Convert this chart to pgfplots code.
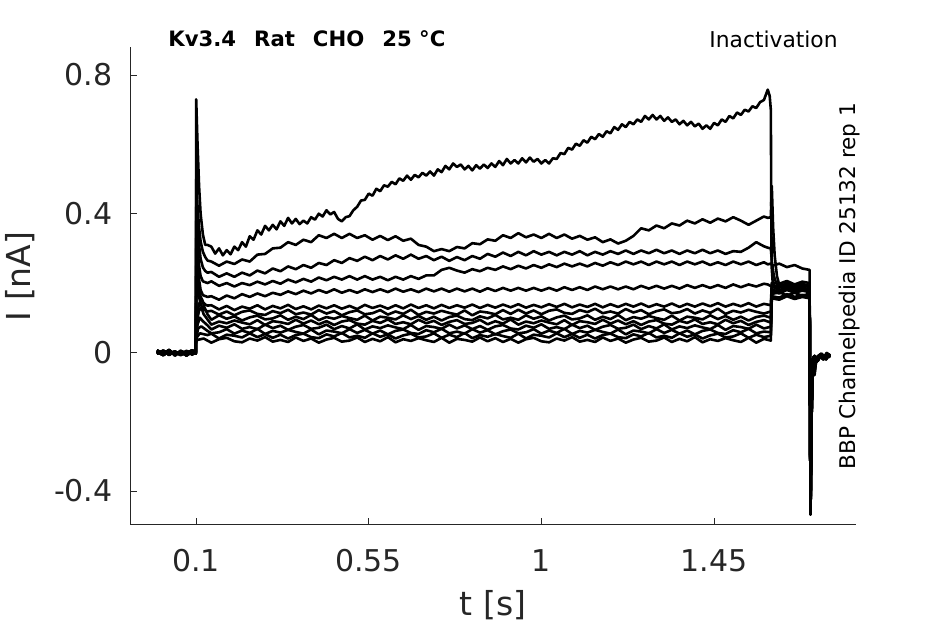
\documentclass[border=0pt]{standalone}
\usepackage{pgfplots}
\pgfplotsset{compat=1.18}
\usepackage{fontspec}
\setmainfont{DejaVu Sans}
\definecolor{axgray}{HTML}{262626}
\begin{document}
\begin{tikzpicture}
\useasboundingbox (-65pt,-49.5pt) rectangle (407.5pt,262.5pt);
\begin{axis}[
  at={(0,0)}, anchor=south west,
  scale only axis, width=363pt, height=239pt,
  xmin=-0.072, xmax=1.82, ymin=-0.498, ymax=0.881,
  axis x line*=bottom, axis y line*=left,
  axis line style={draw=axgray, line width=0.5pt, -},
  tick align=inside, major tick length=3.3pt,
  tick style={draw=axgray, line width=0.5pt},
  xtick={0.1,0.55,1,1.45}, xticklabels={0.1,0.55,1,1.45},
  ytick={-0.4,0,0.4,0.8}, yticklabels={-0.4,0,0.4,0.8},
  tick label style={font=\fontsize{15}{18}\selectfont, text=axgray, inner sep=0pt},
  xticklabel style={anchor=center, yshift=-17.8pt},
  yticklabel style={anchor=east, xshift=-8.5pt},
  xlabel={t [s]}, ylabel={I [nA]},
  label style={font=\fontsize{16.5}{19}\selectfont, text=axgray, inner sep=0pt},
  xlabel style={at={(axis description cs:0.5,0)}, anchor=center, yshift=-40pt},
  ylabel style={at={(axis description cs:-0.1515,0.52)}, anchor=center},
  cycle list={{black,solid}},
  every axis plot/.append style={line width=1.3pt, line join=round, no markers},
]
% A
\addplot coordinates {(-0.002,0.003)(0.01,-0.006)(0.02,0.004)(0.03,-0.008)(0.04,0.002)(0.05,-0.005)(0.06,0.005)(0.07,-0.007)(0.08,0.003)(0.09,-0.004)(0.0995,0.0)(0.1,0.05)(0.1005,0.73)(0.104,0.6)(0.108,0.48)(0.112,0.4)(0.118,0.34)(0.124,0.31)(0.13,0.31)
(0.14,0.305)(0.15,0.285)(0.16,0.30)(0.17,0.28)(0.18,0.295)(0.19,0.283)(0.20,0.305)(0.21,0.295)(0.22,0.318)(0.23,0.305)(0.24,0.335)(0.25,0.325)(0.26,0.352)(0.27,0.34)(0.28,0.365)(0.29,0.352)(0.30,0.368)(0.31,0.355)(0.32,0.378)(0.33,0.365)(0.34,0.388)(0.35,0.372)(0.36,0.385)(0.37,0.37)(0.38,0.38)(0.39,0.372)(0.40,0.39)(0.41,0.383)(0.42,0.40)(0.43,0.392)(0.44,0.41)(0.45,0.398)(0.46,0.405)(0.47,0.385)(0.48,0.378)(0.49,0.39)(0.50,0.393)(0.51,0.41)(0.52,0.42)(0.53,0.438)(0.54,0.44)(0.55,0.458)(0.56,0.452)(0.57,0.472)(0.58,0.465)(0.59,0.482)(0.60,0.478)(0.61,0.492)(0.62,0.485)(0.63,0.502)(0.64,0.495)(0.65,0.51)(0.66,0.498)(0.67,0.512)(0.68,0.505)(0.69,0.518)(0.70,0.51)(0.71,0.522)(0.72,0.51)(0.73,0.528)(0.74,0.52)(0.75,0.538)(0.76,0.528)(0.77,0.545)(0.78,0.535)(0.79,0.542)(0.80,0.528)(0.81,0.538)(0.82,0.525)(0.83,0.54)(0.84,0.53)(0.85,0.542)(0.86,0.532)(0.87,0.545)(0.88,0.535)(0.89,0.552)(0.90,0.54)(0.91,0.558)(0.92,0.545)(0.93,0.555)(0.94,0.545)(0.95,0.56)(0.96,0.548)(0.97,0.562)(0.98,0.55)(0.99,0.558)(1.00,0.545)(1.01,0.555)(1.02,0.545)(1.03,0.56)(1.04,0.558)(1.05,0.575)(1.06,0.572)(1.07,0.59)(1.08,0.585)(1.09,0.602)(1.10,0.596)(1.11,0.612)(1.12,0.605)(1.13,0.622)(1.14,0.615)(1.15,0.63)(1.16,0.622)(1.17,0.638)(1.18,0.632)(1.19,0.65)(1.20,0.642)(1.21,0.658)(1.22,0.65)(1.23,0.665)(1.24,0.658)(1.25,0.672)(1.26,0.665)(1.27,0.682)(1.28,0.672)(1.29,0.685)(1.30,0.672)(1.31,0.682)(1.32,0.668)(1.33,0.678)(1.34,0.665)(1.35,0.672)(1.36,0.658)(1.37,0.668)(1.38,0.655)(1.39,0.665)(1.40,0.652)(1.41,0.66)(1.42,0.645)(1.43,0.655)(1.44,0.645)(1.45,0.662)(1.46,0.655)(1.47,0.672)(1.48,0.665)(1.49,0.682)(1.50,0.675)(1.51,0.692)(1.52,0.685)(1.53,0.7)(1.54,0.695)(1.55,0.71)(1.56,0.705)(1.57,0.722)(1.58,0.728)(1.59,0.758)(1.595,0.74)(1.598,0.70)(1.6,0.25)(1.603,0.2)(1.61,0.185)(1.62,0.178)(1.64,0.19)(1.66,0.176)(1.68,0.188)(1.699,0.18)
(1.7,-0.1)(1.7015,-0.468)(1.704,-0.2)(1.707,-0.04)(1.71,-0.015)(1.715,-0.03)(1.72,-0.012)(1.73,-0.004)(1.74,-0.016)(1.752,-0.008)};
% B
\addplot coordinates {(-0.002,-0.004)(0.015,0.005)(0.03,-0.007)(0.045,0.003)(0.06,-0.008)(0.075,0.004)(0.09,-0.006)(0.0995,0.001)(0.1,0.05)(0.1005,0.5)(0.104,0.42)(0.108,0.36)(0.112,0.32)(0.118,0.29)(0.124,0.275)(0.13,0.265)
(0.14,0.262)(0.16,0.25)(0.18,0.262)(0.20,0.255)(0.22,0.268)(0.24,0.262)(0.26,0.282)(0.28,0.284)(0.30,0.30)(0.32,0.302)(0.34,0.318)(0.36,0.31)(0.38,0.325)(0.40,0.318)(0.42,0.338)(0.44,0.33)(0.46,0.342)(0.48,0.33)(0.50,0.342)(0.52,0.33)(0.54,0.338)(0.56,0.325)(0.58,0.336)(0.60,0.324)(0.62,0.335)(0.64,0.322)(0.66,0.328)(0.68,0.31)(0.70,0.305)(0.72,0.292)(0.74,0.298)(0.76,0.292)(0.78,0.304)(0.80,0.30)(0.82,0.315)(0.84,0.312)(0.86,0.326)(0.88,0.322)(0.90,0.338)(0.92,0.33)(0.94,0.344)(0.96,0.332)(0.98,0.34)(1.00,0.33)(1.02,0.342)(1.04,0.33)(1.06,0.34)(1.08,0.328)(1.10,0.336)(1.12,0.325)(1.14,0.332)(1.16,0.318)(1.18,0.326)(1.20,0.314)(1.22,0.322)(1.24,0.336)(1.26,0.358)(1.28,0.352)(1.30,0.366)(1.32,0.358)(1.34,0.372)(1.36,0.366)(1.38,0.38)(1.40,0.372)(1.42,0.384)(1.44,0.374)(1.46,0.386)(1.48,0.378)(1.50,0.39)(1.52,0.38)(1.54,0.368)(1.56,0.38)(1.58,0.392)(1.59,0.388)(1.598,0.39)(1.6005,0.48)(1.604,0.36)(1.608,0.28)(1.614,0.22)(1.62,0.195)(1.64,0.182)(1.66,0.192)(1.68,0.18)(1.699,0.185)
(1.7,-0.1)(1.7015,-0.44)(1.704,-0.18)(1.708,-0.03)(1.712,-0.066)(1.716,-0.025)(1.725,-0.01)(1.735,-0.02)(1.745,-0.005)(1.752,-0.015)};
% C
\addplot coordinates {(-0.002,0.006)(0.015,-0.004)(0.03,0.007)(0.045,-0.009)(0.06,0.004)(0.075,-0.003)(0.09,0.006)(0.0995,-0.002)(0.1,0.05)(0.1005,0.42)(0.104,0.36)(0.108,0.31)(0.112,0.27)(0.118,0.245)(0.124,0.235)(0.13,0.23)
(0.14,0.232)(0.16,0.218)(0.18,0.228)(0.20,0.218)(0.22,0.23)(0.24,0.222)(0.26,0.236)(0.28,0.228)(0.30,0.242)(0.32,0.234)(0.34,0.248)(0.36,0.24)(0.38,0.252)(0.40,0.244)(0.42,0.258)(0.44,0.252)(0.46,0.266)(0.48,0.258)(0.50,0.272)(0.52,0.264)(0.54,0.276)(0.56,0.266)(0.58,0.278)(0.60,0.268)(0.62,0.28)(0.64,0.27)(0.66,0.282)(0.68,0.27)(0.70,0.278)(0.72,0.266)(0.74,0.276)(0.76,0.264)(0.78,0.275)(0.80,0.266)(0.82,0.278)(0.84,0.27)(0.86,0.284)(0.88,0.276)(0.90,0.288)(0.92,0.278)(0.94,0.29)(0.96,0.28)(0.98,0.292)(1.00,0.282)(1.02,0.29)(1.04,0.28)(1.06,0.29)(1.08,0.282)(1.10,0.292)(1.12,0.28)(1.14,0.29)(1.16,0.282)(1.18,0.292)(1.20,0.284)(1.22,0.294)(1.24,0.284)(1.26,0.294)(1.28,0.286)(1.30,0.296)(1.32,0.286)(1.34,0.294)(1.36,0.284)(1.38,0.294)(1.40,0.286)(1.42,0.296)(1.44,0.286)(1.46,0.294)(1.48,0.284)(1.50,0.292)(1.52,0.29)(1.54,0.302)(1.56,0.318)(1.58,0.306)(1.59,0.302)(1.598,0.3)(1.601,0.26)(1.606,0.22)(1.612,0.2)(1.62,0.19)(1.64,0.2)(1.66,0.188)(1.68,0.198)(1.699,0.19)
(1.7,-0.1)(1.7015,-0.45)(1.704,-0.15)(1.707,-0.02)(1.712,-0.01)(1.72,-0.025)(1.73,-0.006)(1.742,-0.02)(1.752,-0.004)};
% D
\addplot coordinates {(-0.002,0.002)(0.015,-0.008)(0.03,0.004)(0.045,-0.006)(0.06,0.003)(0.075,-0.009)(0.09,0.002)(0.0995,-0.004)(0.1,0.05)(0.1005,0.38)(0.104,0.3)(0.108,0.25)(0.112,0.22)(0.118,0.205)(0.13,0.2)
(0.14,0.205)(0.16,0.192)(0.18,0.2)(0.20,0.19)(0.22,0.2)(0.24,0.194)(0.26,0.204)(0.28,0.196)(0.30,0.206)(0.32,0.198)(0.34,0.21)(0.36,0.202)(0.38,0.212)(0.40,0.204)(0.42,0.216)(0.44,0.208)(0.46,0.218)(0.48,0.21)(0.50,0.22)(0.52,0.21)(0.54,0.22)(0.56,0.21)(0.58,0.218)(0.60,0.208)(0.62,0.218)(0.64,0.21)(0.66,0.22)(0.68,0.212)(0.70,0.222)(0.72,0.222)(0.74,0.238)(0.76,0.244)(0.78,0.236)(0.80,0.23)(0.82,0.24)(0.84,0.234)(0.86,0.244)(0.88,0.238)(0.90,0.248)(0.92,0.24)(0.94,0.25)(0.96,0.242)(0.98,0.252)(1.00,0.244)(1.02,0.254)(1.04,0.246)(1.06,0.256)(1.08,0.248)(1.10,0.256)(1.12,0.248)(1.14,0.258)(1.16,0.25)(1.18,0.26)(1.20,0.252)(1.22,0.262)(1.24,0.254)(1.26,0.262)(1.28,0.252)(1.30,0.262)(1.32,0.254)(1.34,0.262)(1.36,0.252)(1.38,0.262)(1.40,0.254)(1.42,0.262)(1.44,0.252)(1.46,0.26)(1.48,0.252)(1.50,0.262)(1.52,0.254)(1.54,0.262)(1.56,0.252)(1.58,0.26)(1.59,0.254)(1.598,0.256)(1.602,0.25)(1.62,0.256)(1.64,0.246)(1.66,0.252)(1.68,0.242)(1.699,0.238)
(1.7,-0.1)(1.7015,-0.46)(1.704,-0.19)(1.707,-0.035)(1.71,-0.012)(1.716,-0.028)(1.724,-0.008)(1.734,-0.018)(1.744,-0.002)(1.752,-0.012)};
% E
\addplot coordinates {(-0.002,-0.004)(0.015,0.005)(0.03,-0.007)(0.045,0.003)(0.06,-0.008)(0.075,0.004)(0.09,-0.006)(0.0995,0.001)(0.1,0.05)(0.1005,0.33)(0.104,0.26)(0.108,0.21)(0.112,0.18)(0.118,0.165)(0.13,0.16)
(0.14,0.162)(0.16,0.152)(0.18,0.164)(0.20,0.156)(0.22,0.168)(0.24,0.16)(0.26,0.17)(0.28,0.162)(0.30,0.172)(0.32,0.166)(0.34,0.176)(0.36,0.168)(0.38,0.178)(0.40,0.17)(0.42,0.18)(0.44,0.172)(0.46,0.182)(0.48,0.172)(0.50,0.18)(0.52,0.172)(0.54,0.182)(0.56,0.174)(0.58,0.182)(0.60,0.174)(0.62,0.184)(0.64,0.175)(0.66,0.182)(0.68,0.174)(0.70,0.184)(0.72,0.176)(0.74,0.184)(0.76,0.175)(0.78,0.184)(0.80,0.176)(0.82,0.184)(0.84,0.175)(0.86,0.185)(0.88,0.177)(0.90,0.186)(0.92,0.178)(0.94,0.186)(0.96,0.178)(0.98,0.186)(1.00,0.178)(1.02,0.186)(1.04,0.178)(1.06,0.188)(1.08,0.18)(1.10,0.188)(1.12,0.18)(1.14,0.19)(1.16,0.182)(1.18,0.19)(1.20,0.182)(1.22,0.19)(1.24,0.182)(1.26,0.192)(1.28,0.184)(1.30,0.192)(1.32,0.184)(1.34,0.192)(1.36,0.184)(1.38,0.194)(1.40,0.186)(1.42,0.194)(1.44,0.186)(1.46,0.194)(1.48,0.186)(1.50,0.196)(1.52,0.188)(1.54,0.196)(1.56,0.19)(1.58,0.198)(1.59,0.196)(1.6,0.19)(1.62,0.186)(1.64,0.196)(1.66,0.184)(1.68,0.194)(1.699,0.188)
(1.7,-0.1)(1.7015,-0.468)(1.704,-0.2)(1.707,-0.04)(1.71,-0.015)(1.715,-0.03)(1.72,-0.012)(1.73,-0.004)(1.74,-0.016)(1.752,-0.008)};
% F
\addplot coordinates {(-0.002,0.006)(0.015,-0.004)(0.03,0.007)(0.045,-0.009)(0.06,0.004)(0.075,-0.003)(0.09,0.006)(0.0995,-0.002)(0.1,0.045)(0.1005,0.3)(0.104,0.24)(0.108,0.19)(0.112,0.16)(0.118,0.145)(0.124,0.138)(0.13,0.135)
(0.14,0.136)(0.16,0.124)(0.18,0.134)(0.20,0.122)(0.22,0.132)(0.24,0.126)(0.26,0.136)(0.28,0.124)(0.30,0.134)(0.32,0.127)(0.34,0.137)(0.36,0.125)(0.38,0.133)(0.40,0.124)(0.42,0.135)(0.44,0.127)(0.46,0.136)(0.48,0.126)(0.50,0.134)(0.52,0.125)(0.54,0.137)(0.56,0.128)(0.58,0.135)(0.60,0.126)(0.62,0.136)(0.64,0.127)(0.66,0.138)(0.68,0.128)(0.70,0.136)(0.72,0.127)(0.74,0.137)(0.76,0.128)(0.78,0.136)(0.80,0.129)(0.82,0.138)(0.84,0.128)(0.86,0.137)(0.88,0.129)(0.90,0.138)(0.92,0.13)(0.94,0.139)(0.96,0.129)(0.98,0.137)(1.00,0.13)(1.02,0.139)(1.04,0.131)(1.06,0.14)(1.08,0.13)(1.10,0.138)(1.12,0.131)(1.14,0.14)(1.16,0.13)(1.18,0.139)(1.20,0.131)(1.22,0.14)(1.24,0.132)(1.26,0.141)(1.28,0.131)(1.30,0.139)(1.32,0.132)(1.34,0.141)(1.36,0.131)(1.38,0.14)(1.40,0.132)(1.42,0.141)(1.44,0.133)(1.46,0.142)(1.48,0.132)(1.50,0.14)(1.52,0.133)(1.54,0.142)(1.56,0.132)(1.58,0.14)(1.598,0.136)(1.6005,0.2)(1.62,0.198)(1.64,0.206)(1.66,0.196)(1.68,0.204)(1.699,0.2)
(1.7,-0.1)(1.7015,-0.44)(1.704,-0.18)(1.708,-0.03)(1.712,-0.05)(1.716,-0.025)(1.725,-0.01)(1.735,-0.02)(1.745,-0.005)(1.752,-0.015)};
% G
\addplot coordinates {(-0.002,0.002)(0.015,-0.008)(0.03,0.004)(0.045,-0.006)(0.06,0.003)(0.075,-0.009)(0.09,0.002)(0.0995,-0.004)(0.1,0.045)(0.1005,0.25)(0.104,0.2)(0.108,0.16)(0.112,0.14)(0.118,0.125)(0.13,0.118)
(0.14,0.120)(0.16,0.109)(0.18,0.118)(0.20,0.107)(0.22,0.117)(0.24,0.121)(0.26,0.111)(0.28,0.108)(0.30,0.119)(0.32,0.113)(0.34,0.123)(0.36,0.110)(0.38,0.115)(0.40,0.109)(0.42,0.122)(0.44,0.112)(0.46,0.119)(0.48,0.107)(0.50,0.116)(0.52,0.121)(0.54,0.110)(0.56,0.113)(0.58,0.122)(0.60,0.109)(0.62,0.118)(0.64,0.111)(0.66,0.123)(0.68,0.108)(0.70,0.117)(0.72,0.112)(0.74,0.120)(0.76,0.114)(0.78,0.109)(0.80,0.121)(0.82,0.107)(0.84,0.118)(0.86,0.115)(0.88,0.110)(0.90,0.122)(0.92,0.111)(0.94,0.123)(0.96,0.112)(0.98,0.121)(1.00,0.110)(1.02,0.120)(1.04,0.124)(1.06,0.114)(1.08,0.111)(1.10,0.122)(1.12,0.116)(1.14,0.126)(1.16,0.113)(1.18,0.118)(1.20,0.112)(1.22,0.125)(1.24,0.115)(1.26,0.122)(1.28,0.110)(1.30,0.119)(1.32,0.124)(1.34,0.113)(1.36,0.116)(1.38,0.125)(1.40,0.112)(1.42,0.121)(1.44,0.114)(1.46,0.126)(1.48,0.111)(1.50,0.120)(1.52,0.115)(1.54,0.123)(1.56,0.117)(1.58,0.112)(1.598,0.118)(1.6005,0.194)(1.62,0.188)(1.64,0.198)(1.66,0.19)(1.68,0.197)(1.699,0.192)
(1.7,-0.1)(1.7015,-0.45)(1.704,-0.15)(1.707,-0.02)(1.712,-0.01)(1.72,-0.025)(1.73,-0.006)(1.742,-0.02)(1.752,-0.004)};
% H
\addplot coordinates {(-0.002,-0.004)(0.015,0.005)(0.03,-0.007)(0.045,0.003)(0.06,-0.008)(0.075,0.004)(0.09,-0.006)(0.0995,0.001)(0.1,0.045)(0.102,0.1)(0.108,0.14)(0.115,0.155)(0.122,0.13)(0.13,0.11)
(0.14,0.094)(0.16,0.107)(0.18,0.097)(0.20,0.104)(0.22,0.092)(0.24,0.101)(0.26,0.106)(0.28,0.095)(0.30,0.098)(0.32,0.107)(0.34,0.094)(0.36,0.103)(0.38,0.096)(0.40,0.108)(0.42,0.093)(0.44,0.102)(0.46,0.097)(0.48,0.105)(0.50,0.099)(0.52,0.094)(0.54,0.106)(0.56,0.092)(0.58,0.103)(0.60,0.100)(0.62,0.095)(0.64,0.107)(0.66,0.096)(0.68,0.105)(0.70,0.094)(0.72,0.103)(0.74,0.092)(0.76,0.102)(0.78,0.106)(0.80,0.096)(0.82,0.093)(0.84,0.104)(0.86,0.098)(0.88,0.108)(0.90,0.095)(0.92,0.100)(0.94,0.094)(0.96,0.107)(0.98,0.097)(1.00,0.104)(1.02,0.092)(1.04,0.101)(1.06,0.106)(1.08,0.095)(1.10,0.098)(1.12,0.107)(1.14,0.094)(1.16,0.103)(1.18,0.096)(1.20,0.108)(1.22,0.093)(1.24,0.102)(1.26,0.097)(1.28,0.105)(1.30,0.099)(1.32,0.094)(1.34,0.106)(1.36,0.092)(1.38,0.103)(1.40,0.100)(1.42,0.095)(1.44,0.107)(1.46,0.096)(1.48,0.105)(1.50,0.094)(1.52,0.103)(1.54,0.092)(1.56,0.102)(1.58,0.106)(1.598,0.1)(1.6005,0.186)(1.62,0.192)(1.64,0.182)(1.66,0.19)(1.68,0.18)(1.699,0.186)
(1.7,-0.1)(1.7015,-0.46)(1.704,-0.19)(1.707,-0.035)(1.71,-0.012)(1.716,-0.028)(1.724,-0.008)(1.734,-0.018)(1.744,-0.002)(1.752,-0.012)};
% I
\addplot coordinates {(-0.002,0.006)(0.015,-0.004)(0.03,0.007)(0.045,-0.009)(0.06,0.004)(0.075,-0.003)(0.09,0.006)(0.0995,-0.002)(0.1,0.04)(0.102,0.09)(0.108,0.12)(0.114,0.13)(0.12,0.11)(0.13,0.095)
(0.14,0.080)(0.16,0.089)(0.18,0.084)(0.20,0.092)(0.22,0.086)(0.24,0.081)(0.26,0.093)(0.28,0.079)(0.30,0.090)(0.32,0.087)(0.34,0.082)(0.36,0.094)(0.38,0.083)(0.40,0.092)(0.42,0.081)(0.44,0.090)(0.46,0.079)(0.48,0.089)(0.50,0.093)(0.52,0.083)(0.54,0.080)(0.56,0.091)(0.58,0.085)(0.60,0.095)(0.62,0.082)(0.64,0.087)(0.66,0.081)(0.68,0.094)(0.70,0.084)(0.72,0.091)(0.74,0.079)(0.76,0.088)(0.78,0.093)(0.80,0.082)(0.82,0.085)(0.84,0.094)(0.86,0.081)(0.88,0.090)(0.90,0.083)(0.92,0.095)(0.94,0.080)(0.96,0.089)(0.98,0.084)(1.00,0.092)(1.02,0.086)(1.04,0.081)(1.06,0.093)(1.08,0.079)(1.10,0.090)(1.12,0.087)(1.14,0.082)(1.16,0.094)(1.18,0.083)(1.20,0.092)(1.22,0.081)(1.24,0.090)(1.26,0.079)(1.28,0.089)(1.30,0.093)(1.32,0.083)(1.34,0.080)(1.36,0.091)(1.38,0.085)(1.40,0.095)(1.42,0.082)(1.44,0.087)(1.46,0.081)(1.48,0.094)(1.50,0.084)(1.52,0.091)(1.54,0.079)(1.56,0.088)(1.58,0.093)(1.598,0.086)(1.6005,0.18)(1.62,0.176)(1.64,0.186)(1.66,0.178)(1.68,0.184)(1.699,0.18)
(1.7,-0.1)(1.7015,-0.468)(1.704,-0.2)(1.707,-0.04)(1.71,-0.015)(1.715,-0.03)(1.72,-0.012)(1.73,-0.004)(1.74,-0.016)(1.752,-0.008)};
% J
\addplot coordinates {(-0.002,0.002)(0.015,-0.008)(0.03,0.004)(0.045,-0.006)(0.06,0.003)(0.075,-0.009)(0.09,0.002)(0.0995,-0.004)(0.1,0.04)(0.104,0.08)(0.11,0.1)(0.118,0.09)(0.13,0.078)
(0.14,0.066)(0.16,0.077)(0.18,0.071)(0.20,0.081)(0.22,0.068)(0.24,0.073)(0.26,0.067)(0.28,0.080)(0.30,0.070)(0.32,0.077)(0.34,0.065)(0.36,0.074)(0.38,0.079)(0.40,0.068)(0.42,0.071)(0.44,0.080)(0.46,0.067)(0.48,0.076)(0.50,0.069)(0.52,0.081)(0.54,0.066)(0.56,0.075)(0.58,0.070)(0.60,0.078)(0.62,0.072)(0.64,0.067)(0.66,0.079)(0.68,0.065)(0.70,0.076)(0.72,0.073)(0.74,0.068)(0.76,0.080)(0.78,0.069)(0.80,0.078)(0.82,0.067)(0.84,0.076)(0.86,0.065)(0.88,0.075)(0.90,0.079)(0.92,0.069)(0.94,0.066)(0.96,0.077)(0.98,0.071)(1.00,0.081)(1.02,0.068)(1.04,0.073)(1.06,0.067)(1.08,0.080)(1.10,0.070)(1.12,0.077)(1.14,0.065)(1.16,0.074)(1.18,0.079)(1.20,0.068)(1.22,0.071)(1.24,0.080)(1.26,0.067)(1.28,0.076)(1.30,0.069)(1.32,0.081)(1.34,0.066)(1.36,0.075)(1.38,0.070)(1.40,0.078)(1.42,0.072)(1.44,0.067)(1.46,0.079)(1.48,0.065)(1.50,0.076)(1.52,0.073)(1.54,0.068)(1.56,0.080)(1.58,0.069)(1.598,0.074)(1.6005,0.175)(1.62,0.17)(1.64,0.18)(1.66,0.172)(1.68,0.178)(1.699,0.174)
(1.7,-0.1)(1.7015,-0.44)(1.704,-0.18)(1.708,-0.03)(1.712,-0.06)(1.716,-0.025)(1.725,-0.01)(1.735,-0.02)(1.745,-0.005)(1.752,-0.015)};
% K
\addplot coordinates {(-0.002,-0.004)(0.015,0.005)(0.03,-0.007)(0.045,0.003)(0.06,-0.008)(0.075,0.004)(0.09,-0.006)(0.0995,0.001)(0.1,0.04)(0.106,0.07)(0.114,0.075)(0.13,0.062)
(0.14,0.055)(0.16,0.058)(0.18,0.067)(0.20,0.054)(0.22,0.063)(0.24,0.056)(0.26,0.068)(0.28,0.053)(0.30,0.062)(0.32,0.057)(0.34,0.065)(0.36,0.059)(0.38,0.054)(0.40,0.066)(0.42,0.052)(0.44,0.063)(0.46,0.060)(0.48,0.055)(0.50,0.067)(0.52,0.056)(0.54,0.065)(0.56,0.054)(0.58,0.063)(0.60,0.052)(0.62,0.062)(0.64,0.066)(0.66,0.056)(0.68,0.053)(0.70,0.064)(0.72,0.058)(0.74,0.068)(0.76,0.055)(0.78,0.060)(0.80,0.054)(0.82,0.067)(0.84,0.057)(0.86,0.064)(0.88,0.052)(0.90,0.061)(0.92,0.066)(0.94,0.055)(0.96,0.058)(0.98,0.067)(1.00,0.054)(1.02,0.063)(1.04,0.056)(1.06,0.068)(1.08,0.053)(1.10,0.062)(1.12,0.057)(1.14,0.065)(1.16,0.059)(1.18,0.054)(1.20,0.066)(1.22,0.052)(1.24,0.063)(1.26,0.060)(1.28,0.055)(1.30,0.067)(1.32,0.056)(1.34,0.065)(1.36,0.054)(1.38,0.063)(1.40,0.052)(1.42,0.062)(1.44,0.066)(1.46,0.056)(1.48,0.053)(1.50,0.064)(1.52,0.058)(1.54,0.068)(1.56,0.055)(1.58,0.060)(1.598,0.058)(1.6005,0.168)(1.62,0.174)(1.64,0.164)(1.66,0.172)(1.68,0.163)(1.699,0.17)
(1.7,-0.1)(1.7015,-0.45)(1.704,-0.15)(1.707,-0.02)(1.712,-0.01)(1.72,-0.025)(1.73,-0.006)(1.742,-0.02)(1.752,-0.004)};
% L
\addplot coordinates {(-0.002,0.006)(0.015,-0.004)(0.03,0.007)(0.045,-0.009)(0.06,0.004)(0.075,-0.003)(0.09,0.006)(0.0995,-0.002)(0.1,0.04)(0.11,0.055)(0.13,0.05)
(0.14,0.054)(0.16,0.040)(0.18,0.051)(0.20,0.048)(0.22,0.043)(0.24,0.055)(0.26,0.044)(0.28,0.053)(0.30,0.042)(0.32,0.051)(0.34,0.040)(0.36,0.050)(0.38,0.054)(0.40,0.044)(0.42,0.041)(0.44,0.052)(0.46,0.046)(0.48,0.056)(0.50,0.043)(0.52,0.048)(0.54,0.042)(0.56,0.055)(0.58,0.045)(0.60,0.052)(0.62,0.040)(0.64,0.049)(0.66,0.054)(0.68,0.043)(0.70,0.046)(0.72,0.055)(0.74,0.042)(0.76,0.051)(0.78,0.044)(0.80,0.056)(0.82,0.041)(0.84,0.050)(0.86,0.045)(0.88,0.053)(0.90,0.047)(0.92,0.042)(0.94,0.054)(0.96,0.040)(0.98,0.051)(1.00,0.048)(1.02,0.043)(1.04,0.055)(1.06,0.044)(1.08,0.053)(1.10,0.042)(1.12,0.051)(1.14,0.040)(1.16,0.050)(1.18,0.054)(1.20,0.044)(1.22,0.041)(1.24,0.052)(1.26,0.046)(1.28,0.056)(1.30,0.043)(1.32,0.048)(1.34,0.042)(1.36,0.055)(1.38,0.045)(1.40,0.052)(1.42,0.040)(1.44,0.049)(1.46,0.054)(1.48,0.043)(1.50,0.046)(1.52,0.055)(1.54,0.042)(1.56,0.051)(1.58,0.044)(1.598,0.048)(1.6005,0.162)(1.62,0.158)(1.64,0.168)(1.66,0.16)(1.68,0.166)(1.699,0.162)
(1.7,-0.1)(1.7015,-0.46)(1.704,-0.19)(1.707,-0.035)(1.71,-0.012)(1.716,-0.028)(1.724,-0.008)(1.734,-0.018)(1.744,-0.002)(1.752,-0.012)};
% M
\addplot coordinates {(-0.002,0.002)(0.015,-0.008)(0.03,0.004)(0.045,-0.006)(0.06,0.003)(0.075,-0.009)(0.09,0.002)(0.0995,-0.004)(0.1,0.035)(0.12,0.04)
(0.14,0.028)(0.16,0.038)(0.18,0.042)(0.20,0.032)(0.22,0.029)(0.24,0.040)(0.26,0.034)(0.28,0.044)(0.30,0.031)(0.32,0.036)(0.34,0.030)(0.36,0.043)(0.38,0.033)(0.40,0.040)(0.42,0.028)(0.44,0.037)(0.46,0.042)(0.48,0.031)(0.50,0.034)(0.52,0.043)(0.54,0.030)(0.56,0.039)(0.58,0.032)(0.60,0.044)(0.62,0.029)(0.64,0.038)(0.66,0.033)(0.68,0.041)(0.70,0.035)(0.72,0.030)(0.74,0.042)(0.76,0.028)(0.78,0.039)(0.80,0.036)(0.82,0.031)(0.84,0.043)(0.86,0.032)(0.88,0.041)(0.90,0.030)(0.92,0.039)(0.94,0.028)(0.96,0.038)(0.98,0.042)(1.00,0.032)(1.02,0.029)(1.04,0.040)(1.06,0.034)(1.08,0.044)(1.10,0.031)(1.12,0.036)(1.14,0.030)(1.16,0.043)(1.18,0.033)(1.20,0.040)(1.22,0.028)(1.24,0.037)(1.26,0.042)(1.28,0.031)(1.30,0.034)(1.32,0.043)(1.34,0.030)(1.36,0.039)(1.38,0.032)(1.40,0.044)(1.42,0.029)(1.44,0.038)(1.46,0.033)(1.48,0.041)(1.50,0.035)(1.52,0.030)(1.54,0.042)(1.56,0.028)(1.58,0.039)(1.598,0.034)(1.6005,0.156)(1.62,0.152)(1.64,0.162)(1.66,0.154)(1.68,0.16)(1.699,0.156)
(1.7,-0.1)(1.7015,-0.468)(1.704,-0.2)(1.707,-0.04)(1.71,-0.015)(1.715,-0.03)(1.72,-0.012)(1.73,-0.004)(1.74,-0.016)(1.752,-0.008)};
\end{axis}
\node[anchor=west, font=\bfseries\fontsize{10.6}{12}\selectfont, inner sep=0pt] at (19pt,243pt) {Kv3.4\hspace{9pt}Rat\hspace{9pt}CHO\hspace{9pt}25 °C};
\node[anchor=east, font=\fontsize{10.9}{12}\selectfont, inner sep=0pt] at (354pt,243pt) {Inactivation};
\node[rotate=90, anchor=center, font=\fontsize{10.8}{12}\selectfont, inner sep=0pt] at (360pt,119.5pt) {BBP Channelpedia ID 25132 rep 1};
\end{tikzpicture}
\end{document}
